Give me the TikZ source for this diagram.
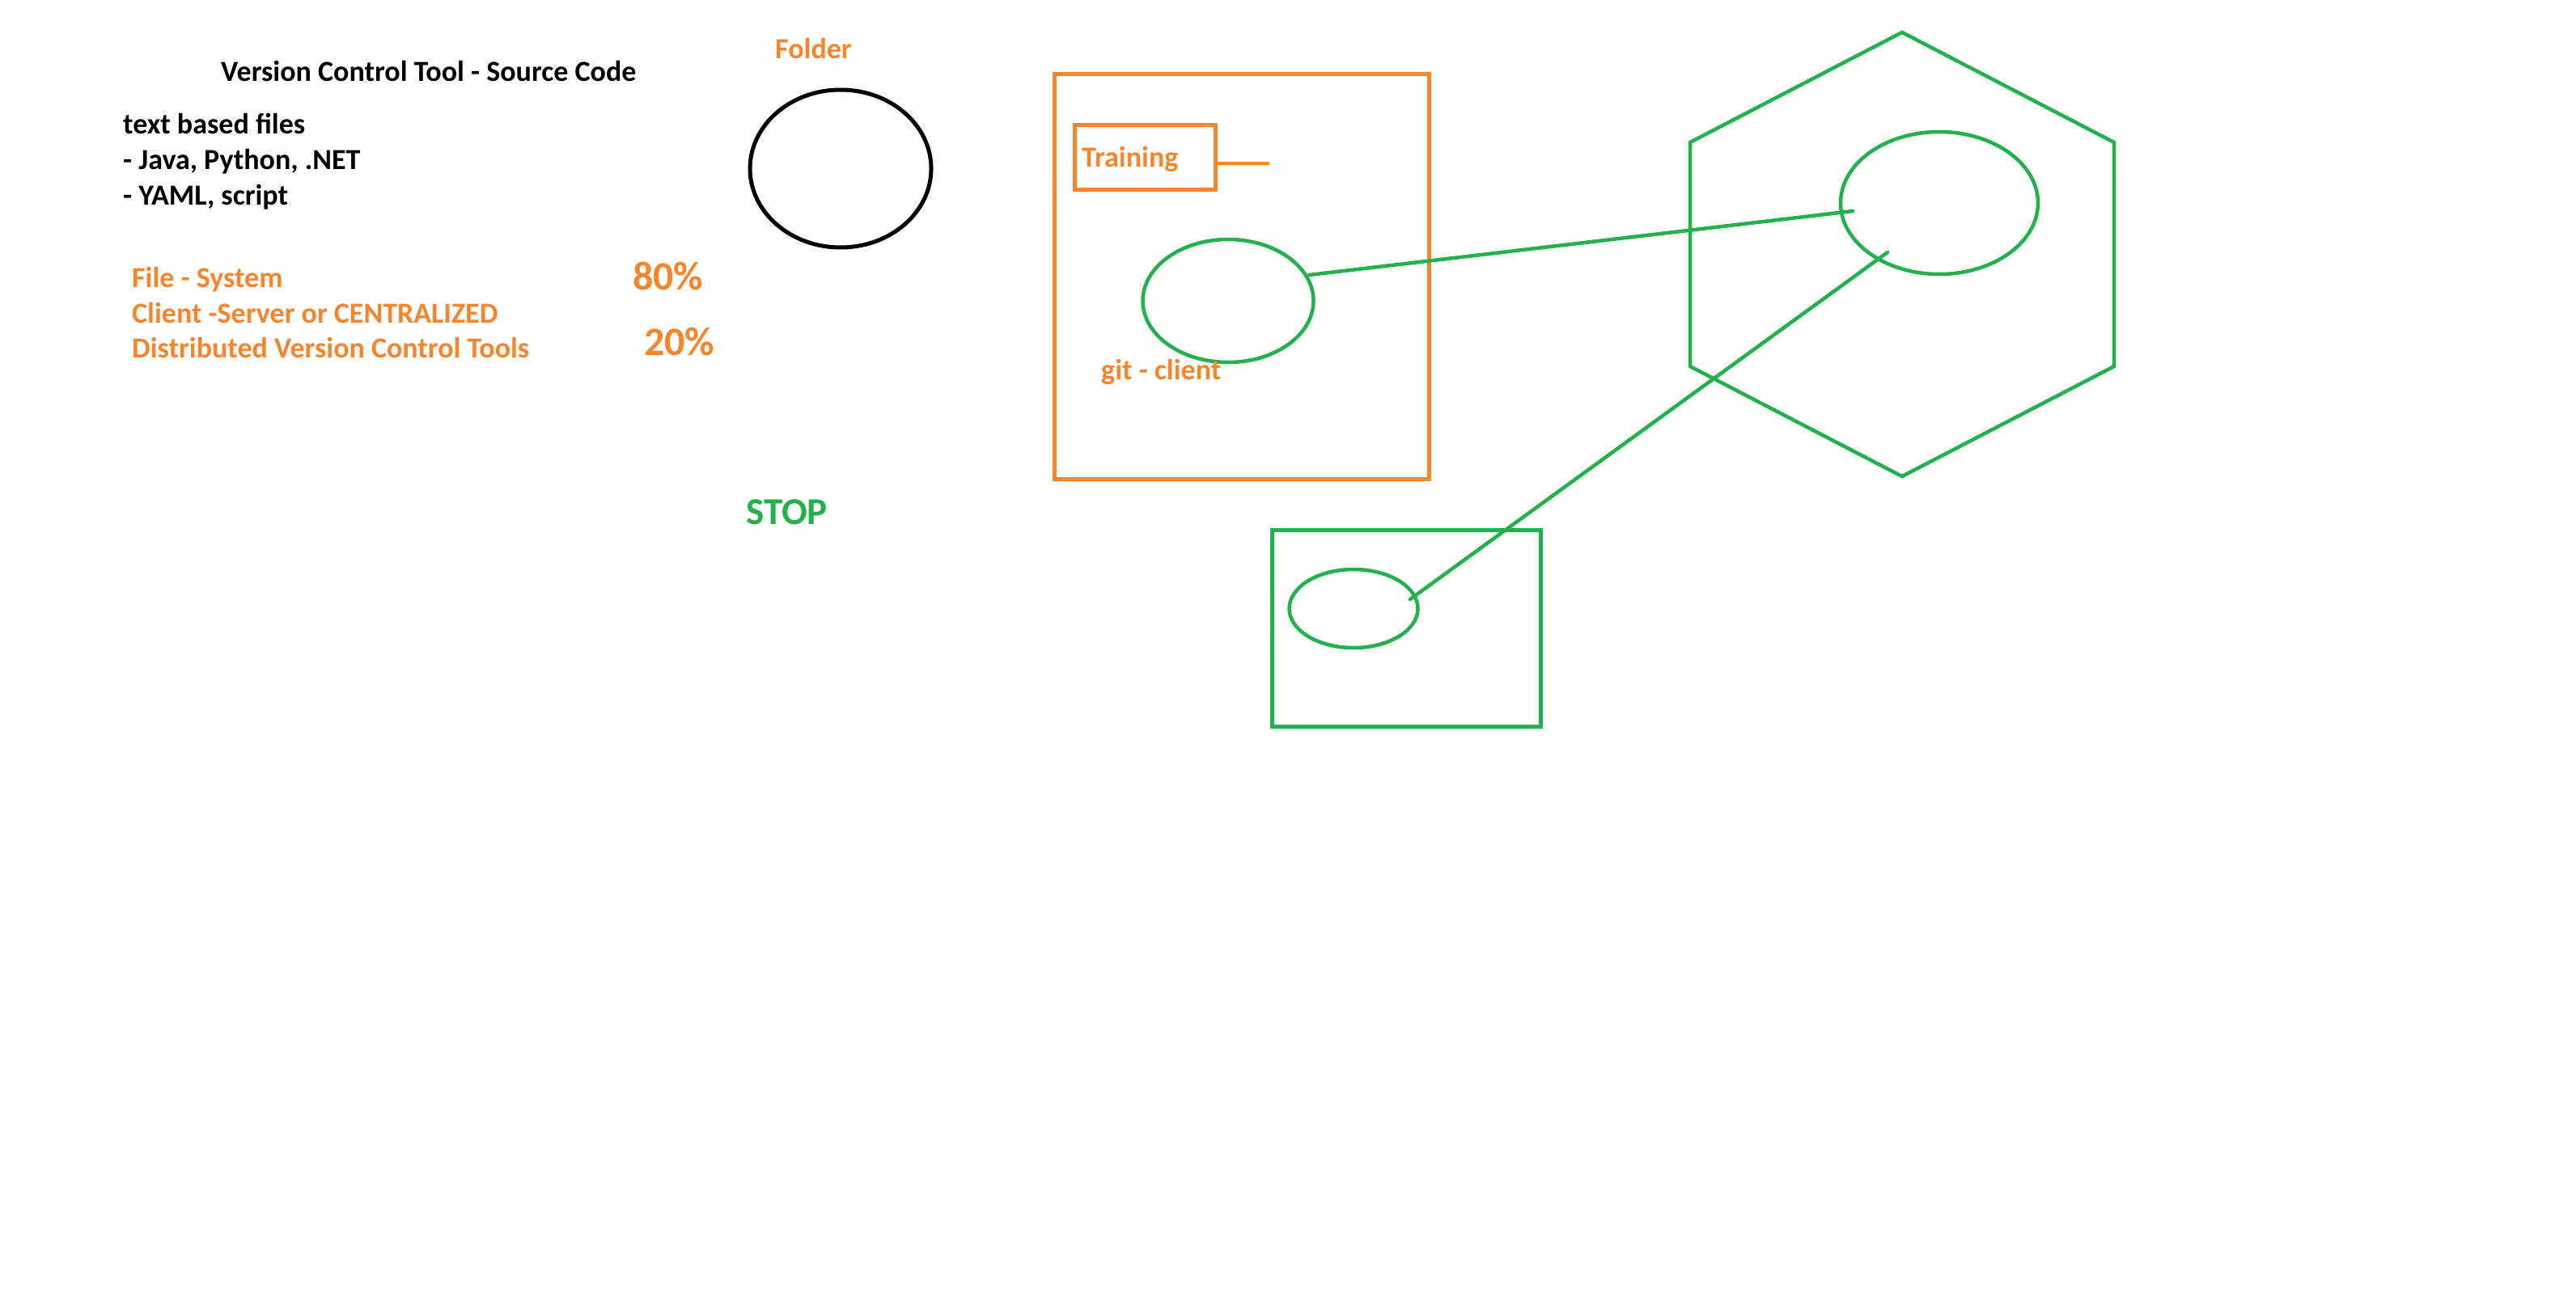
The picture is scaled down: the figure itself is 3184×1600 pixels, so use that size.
\documentclass[tikz,border=0pt]{standalone}
\usepackage{fontspec}
\setmainfont{Carlito}
\usetikzlibrary{shapes.geometric}
\definecolor{org}{HTML}{F5862E}
\definecolor{grn}{HTML}{22B14C}
\tikzset{
  txt/.style={anchor=base west, inner sep=0pt, font=\fontsize{36}{44}\selectfont\bfseries},
  big/.style={anchor=base west, inner sep=0pt, font=\fontsize{50}{60}\selectfont\bfseries},
  oval/.style={ellipse, draw, inner sep=0pt, line width=4.5pt},
  obox/.style={draw=org, line width=5pt},
  gline/.style={draw=grn, line width=4.5pt},
}
\begin{document}
\begin{tikzpicture}[x=1pt,y=-1pt]
\useasboundingbox[fill=white] (0,0) rectangle (3184,1600);
% left texts
\node[txt] (title) at (273,101) {Version Control Tool - Source Code};
\node[txt] (t1) at (152,165) {text based files};
\node[txt] (t2) at (152,209) {- Java, Python, .NET};
\node[txt] (t3) at (152,253) {- YAML, script};
\node[txt, text=org] (o1) at (163,355) {File - System};
\node[txt, text=org] (o2) at (163,399) {Client -Server or CENTRALIZED};
\node[txt, text=org] (o3) at (163,442) {Distributed Version Control Tools};
\node[big, text=org] (p80) at (782,358) {80\%};
\node[big, text=org] (p20) at (796,439) {20\%};
% folder
\node[txt, text=org] (folder) at (958,73) {Folder};
\node[oval, draw=black, line width=5pt, minimum width=224pt, minimum height=195pt] (fcirc) at (1039,208.5) {};
% STOP
\node[anchor=base west, inner sep=0pt, font=\fontsize{47}{56}\selectfont\bfseries, text=grn] (stop) at (922,648) {STOP};
% orange box
\node[obox, anchor=north west, minimum width=463pt, minimum height=501pt, inner sep=0pt] (obx) at (1301,89) {};
\node[draw=org, line width=4.5pt, anchor=north west, minimum width=174pt, minimum height=80pt, inner sep=0pt] (trbox) at (1326,152) {};
\node[txt, text=org] (train) at (1337,206) {Training};
\coordinate (trend) at (1567,202);
\draw[draw=org, line width=4.5pt, line cap=round] (trbox.east |- trend) -- (trend);
\node[oval, draw=grn, minimum width=211pt, minimum height=152pt] (gitc) at (1518,372) {};
\node[txt, text=org] (gitlbl) at (1361,469) {git - client};
% hexagon
\coordinate (h1) at (2351,40);
\coordinate (h2) at (2613,176);
\coordinate (h3) at (2613,453);
\coordinate (h4) at (2351,589);
\coordinate (h5) at (2089,453);
\coordinate (h6) at (2089,176);
\draw[gline] (h1) -- (h2) -- (h3) -- (h4) -- (h5) -- (h6) -- cycle;
\node[oval, draw=grn, minimum width=244pt, minimum height=176pt] (hexe) at (2397,251) {};
% green box
\node[draw=grn, line width=5pt, anchor=north west, minimum width=332pt, minimum height=243pt, inner sep=0pt] (gbx) at (1570,653) {};
\node[oval, draw=grn, minimum width=159pt, minimum height=97pt] (sme) at (1673,752.5) {};
% connectors
\coordinate (c1a) at (1618,340);
\coordinate (c1b) at (2290,261);
\coordinate (c2a) at (1743,741);
\coordinate (c2b) at (2333,312);
\draw[gline, line cap=round] (c1a) -- (c1b);
\draw[gline, line cap=round] (c2a) -- (c2b);
\end{tikzpicture}
\end{document}
